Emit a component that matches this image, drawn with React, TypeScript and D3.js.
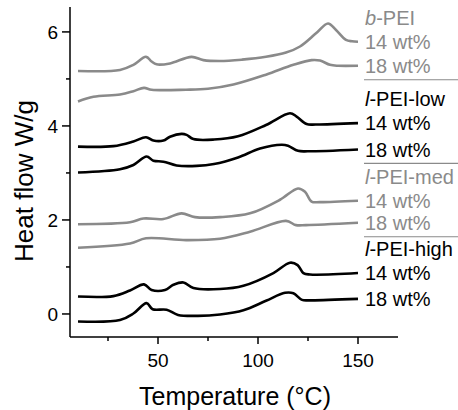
import React from 'react';
import * as d3 from 'd3';

const W = 458;
const H = 410;

const xTicksMajor = [50, 100, 150];
const xTicksMinor = [25, 75, 125];
const yTicksMajor = [0, 2, 4, 6];
const yTicksMinor = [1, 3, 5];

// [temperature °C, heat flow W/g]
const bPEI14: [number, number][] = [[10, 5.17], [31, 5.19], [37.7, 5.3], [44, 5.47], [46.8, 5.37], [49.3, 5.31], [56, 5.33], [66.8, 5.47], [72.7, 5.4], [81, 5.38], [92, 5.41], [104, 5.47], [114, 5.56], [121, 5.69], [129, 5.97], [135, 6.18], [139, 6.04], [144, 5.83], [147, 5.8], [150, 5.79]];
const bPEI18: [number, number][] = [[10, 4.52], [17.7, 4.62], [31, 4.67], [37.7, 4.74], [43, 4.81], [46.8, 4.77], [64, 4.77], [75, 4.79], [87.7, 4.88], [104, 5.09], [117.7, 5.3], [126.8, 5.4], [131, 5.39], [136, 5.3], [140, 5.28], [150, 5.28]];
const lLow14: [number, number][] = [[10, 3.56], [27.7, 3.57], [37.7, 3.67], [44, 3.76], [47.7, 3.69], [52.7, 3.69], [56, 3.77], [61.8, 3.83], [64.3, 3.81], [67.7, 3.72], [78, 3.71], [90, 3.78], [104, 4.02], [116, 4.27], [119.3, 4.2], [124.3, 4.04], [129, 4.03], [150, 4.06]];
const lLow18: [number, number][] = [[10, 3.01], [31, 3.08], [37.7, 3.17], [44.3, 3.35], [47.7, 3.26], [52.7, 3.24], [59.3, 3.16], [69.3, 3.15], [78, 3.19], [90, 3.33], [101, 3.52], [111.8, 3.6], [115, 3.58], [120, 3.47], [125, 3.46], [150, 3.5]];
const lMed14: [number, number][] = [[10, 1.91], [36, 1.95], [42.7, 2.03], [52.7, 2.02], [61.8, 2.14], [68.5, 2.06], [81, 2.06], [96, 2.14], [111, 2.43], [120, 2.67], [123.5, 2.6], [126.8, 2.39], [131, 2.38], [150, 2.41]];
const lMed18: [number, number][] = [[10, 1.41], [36, 1.5], [44, 1.61], [64, 1.57], [81, 1.6], [96, 1.75], [114, 1.98], [119, 1.89], [124, 1.89], [150, 1.94]];
const lHigh14: [number, number][] = [[10, 0.37], [27.7, 0.38], [36, 0.5], [43, 0.63], [46.8, 0.51], [53.5, 0.51], [57.7, 0.62], [62.7, 0.67], [67.7, 0.55], [81, 0.53], [92.7, 0.6], [107.7, 0.87], [116, 1.09], [119.8, 1.04], [122.7, 0.87], [126, 0.84], [150, 0.87]];
const lHigh18: [number, number][] = [[10, -0.16], [31, -0.13], [37.7, 0.01], [44.3, 0.23], [47.3, 0.1], [54.3, 0.09], [60, -0.02], [70, -0.04], [81, -0.01], [92.7, 0.08], [104, 0.28], [113.5, 0.45], [117.7, 0.44], [122, 0.3], [126, 0.29], [150, 0.32]];

const groupPrefixes = ['b', 'l', 'l', 'l'];
const groupNames = ['-PEI', '-PEI-low', '-PEI-med', '-PEI-high'];
const seriesLabels = ['14 wt%', '18 wt%'];
const groupSeries = [
  [bPEI14, bPEI18],
  [lLow14, lLow18],
  [lMed14, lMed18],
  [lHigh14, lHigh18],
];

const GRAY = '#8a8a8a';
const groupColors = [GRAY, '#000', GRAY, '#000'];
const FONT = '"Liberation Sans", Arial, sans-serif';

export default function App() {
  const x = d3.scaleLinear().domain([6, 170]).range([70, 398]);
  const y = d3.scaleLinear().domain([-0.49, 6.53]).range([337, 7]);
  const line = d3
    .line<[number, number]>()
    .x((d) => x(d[0]))
    .y((d) => y(d[1]))
    .curve(d3.curveCatmullRom.alpha(0.5));

  const textX = 365;

  return (
    <svg
      width={W}
      height={H}
      style={{ position: 'absolute', left: 0, top: 0, background: '#fff' }}
      fontFamily={FONT}
    >
      {/* axes */}
      <line x1={70} x2={70} y1={y.range()[1]} y2={y.range()[0]} stroke="#000" strokeWidth={1.5} />
      <line x1={70} x2={398} y1={337} y2={337} stroke="#000" strokeWidth={1.5} />
      {xTicksMajor.map((t) => (
        <g key={'xM' + t}>
          <line x1={x(t)} x2={x(t)} y1={337} y2={344} stroke="#000" strokeWidth={1.5} />
          <text x={x(t)} y={367} textAnchor="middle" fontSize={19}>{t}</text>
        </g>
      ))}
      {xTicksMinor.map((t) => (
        <line key={'xm' + t} x1={x(t)} x2={x(t)} y1={337} y2={341} stroke="#000" strokeWidth={1.5} />
      ))}
      {yTicksMajor.map((t) => (
        <g key={'yM' + t}>
          <line x1={62} x2={70} y1={y(t)} y2={y(t)} stroke="#000" strokeWidth={1.5} />
          <text x={58} y={y(t)} dy="0.36em" textAnchor="end" fontSize={19}>{t}</text>
        </g>
      ))}
      {yTicksMinor.map((t) => (
        <line key={'ym' + t} x1={66} x2={70} y1={y(t)} y2={y(t)} stroke="#000" strokeWidth={1.5} />
      ))}
      <text x={235} y={405} textAnchor="middle" fontSize={25}>Temperature (°C)</text>
      <text
        transform="translate(33,181) rotate(-90)"
        textAnchor="middle"
        fontSize={26}
      >
        Heat flow W/g
      </text>

      {/* curves and labels */}
      {groupSeries.map((series, gi) => {
        const color = groupColors[gi];
        const first = series[0];
        const last = series[series.length - 1];
        const headerY = y(first[first.length - 1][1]) - 17;
        const sepY = y(last[last.length - 1][1]) + 14;
        return (
          <g key={'g' + gi}>
            <text x={textX} y={headerY} fontSize={20} fill={color}>
              <tspan fontStyle="italic">{groupPrefixes[gi]}</tspan>
              {groupNames[gi]}
            </text>
            {series.map((s, si) => (
              <g key={'s' + si}>
                <path d={line(s) || ''} fill="none" stroke={color} strokeWidth={2.6} strokeLinejoin="round" />
                <text x={textX} y={y(s[s.length - 1][1])} dy="0.36em" fontSize={20} fill={color}>
                  {seriesLabels[si]}
                </text>
              </g>
            ))}
            {gi < groupSeries.length - 1 && (
              <line x1={364} x2={458} y1={sepY} y2={sepY} stroke={GRAY} strokeWidth={1.2} />
            )}
          </g>
        );
      })}
    </svg>
  );
}
